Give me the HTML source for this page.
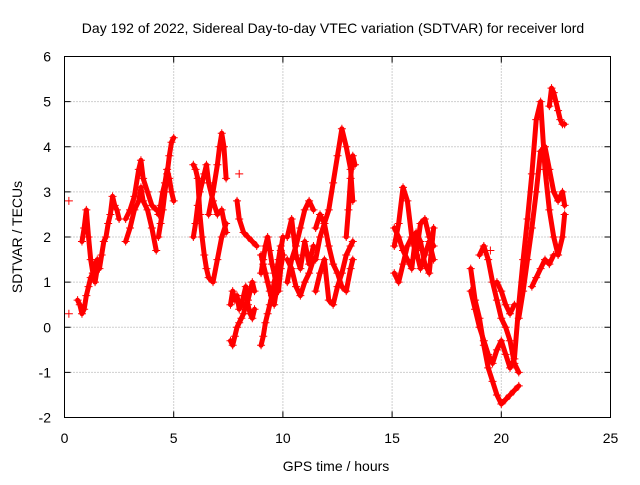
<!DOCTYPE html>
<html><head><meta charset="utf-8"><style>
body{margin:0;background:#fff;width:640px;height:480px;overflow:hidden}
svg text{font-family:"Liberation Sans",sans-serif;font-size:14px;fill:#000}
</style></head><body>
<svg id="chart" width="640" height="480">
<rect x="0" y="0" width="640" height="480" fill="#fff"/>
<g id="grid"></g>
<g id="series"></g>
<rect x="64.5" y="56.5" width="546" height="361" fill="none" stroke="#000"/>
<g id="ticks"></g>
<text x="333" y="33" text-anchor="middle">Day 192 of 2022, Sidereal Day-to-day VTEC variation (SDTVAR) for receiver lord</text>
<text x="336" y="471" text-anchor="middle">GPS time / hours</text>
<text transform="translate(22,237) rotate(-90)" text-anchor="middle">SDTVAR / TECUs</text>
</svg>
<script>
const xTicks=[0,5,10,15,20,25];
const yTicks=[-2,-1,0,1,2,3,4,5,6];
const trackTimes=[
[0.6,0.7,0.8,0.9,1.0,1.1,1.2,1.3,1.4,1.5,1.6,1.7,1.8,1.9,2.0,2.1,2.2,2.3,2.4,2.5],
[0.8,0.9,1.0,1.1,1.2,1.3,1.4,1.5],
[2.8,3.0,3.2,3.4,3.5,3.6,3.8,4.0,4.2],
[2.8,3.0,3.2,3.4,3.5,3.6,3.8,4.0,4.2],
[4.3,4.4,4.5,4.6,4.7,4.8,4.9,5.0],
[4.3,4.4,4.5,4.6,4.7,4.8,4.9,5.0],
[5.9,6.0,6.1,6.2,6.3,6.4,6.5,6.6,6.8,7.0,7.2,7.4],
[5.9,6.0,6.1,6.2,6.3,6.4,6.5,6.6,6.8,7.0,7.2,7.4],
[6.6,6.8,7.0,7.1,7.2,7.3,7.4],
[7.6,7.7,7.8,7.9,8.0,8.1,8.2,8.3,8.4,8.5,8.6,8.7],
[7.6,7.7,7.8,7.9,8.0,8.1,8.2,8.3,8.4,8.5,8.6,8.7],
[7.9,8.0,8.2,8.4,8.6,8.8],
[9.0,9.1,9.2,9.3,9.4,9.5,9.6,9.7,9.8,9.9,10.0],
[9.0,9.1,9.2,9.3,9.4,9.5,9.6,9.7,9.8,9.9,10.0],
[9.0,9.1,9.2,9.3,9.4,9.5,9.6,9.7,9.8,9.9,10.0],
[10.2,10.4,10.6,10.8,11.0,11.2,11.4],
[10.2,10.4,10.6,10.8,11.0,11.2,11.4],
[10.2,10.4,10.6,10.8,11.0,11.2,11.4],
[11.5,11.7,11.9,12.1,12.3,12.5,12.7,12.9,13.1,13.2],
[11.5,11.7,11.9,12.1,12.3,12.5,12.7,12.9,13.1,13.2],
[11.5,11.7,11.9,12.1,12.3,12.5,12.7,12.9,13.1,13.2],
[12.9,13.0,13.1,13.2,13.3],
[15.1,15.3,15.5,15.7,15.9,16.1,16.3,16.5,16.7,16.9],
[15.1,15.3,15.5,15.7,15.9,16.1,16.3,16.5,16.7,16.9],
[15.1,15.3,15.5,15.7,15.9,16.1,16.3,16.5,16.7,16.9],
[18.6,18.8,19.0,19.2,19.4,19.6,19.8,20.0,20.2,20.4,20.6,20.8],
[18.6,18.8,19.0,19.2,19.4,19.6,19.8,20.0,20.2,20.4,20.6,20.8],
[19.0,19.2,19.4,19.6,19.8,20.0,20.2,20.4,20.6,20.8],
[19.8,20.0,20.2,20.4,20.6],
[20.8,21.0,21.2,21.4,21.6,21.8,22.0,22.2,22.4,22.6,22.8,22.9],
[20.8,21.0,21.2,21.4,21.6,21.8,22.0,22.2,22.4,22.6,22.8,22.9],
[22.2,22.3,22.4,22.5,22.6,22.7,22.8,22.9],
[21.4,21.6,21.8,22.0,22.2,22.4]
];
const trackValues=[
[0.6,0.5,0.3,0.4,0.7,0.9,1.1,1.2,1.4,1.5,1.3,1.6,1.9,2.0,2.3,2.5,2.9,2.7,2.6,2.4],
[1.9,2.2,2.6,2.0,1.5,1.2,1.0,1.3],
[2.4,2.6,2.9,3.5,3.7,3.3,3.0,2.7,2.6],
[1.9,2.2,2.6,2.8,3.1,2.8,2.6,2.2,1.7],
[2.0,2.3,2.6,3.0,3.4,3.8,4.1,4.2],
[2.5,2.7,3.0,3.2,3.5,3.3,3.0,2.8],
[3.6,3.5,3.3,2.5,2.0,1.6,1.3,1.1,1.0,1.5,2.0,2.3],
[2.0,2.3,2.7,3.0,3.2,3.4,3.6,3.2,2.8,2.5,2.6,2.1],
[2.5,3.0,3.6,4.0,4.3,4.0,3.3],
[-0.3,-0.4,-0.2,0.0,0.1,0.2,0.3,0.5,0.6,0.8,1.0,0.8],
[0.5,0.8,0.6,0.7,0.4,0.5,0.7,0.9,0.5,0.3,0.2,0.4],
[2.8,2.4,2.1,2.0,1.9,1.8],
[-0.4,-0.2,0.1,0.3,0.5,0.7,1.0,1.2,1.5,1.8,1.6],
[1.2,1.5,1.8,2.0,1.7,1.4,1.2,0.9,0.8,1.3,1.6],
[1.6,1.4,1.2,1.0,0.8,0.6,0.5,0.8,1.2,1.7,2.0],
[1.0,1.5,1.8,2.2,2.6,2.8,2.6],
[1.5,1.3,0.9,0.7,1.0,1.2,1.5],
[2.0,2.4,1.6,1.3,1.9,1.4,1.8],
[1.5,2.0,2.3,2.6,3.2,3.8,4.4,4.0,3.5,2.8],
[2.2,2.5,2.3,1.8,1.4,1.2,0.9,0.8,1.3,1.5],
[0.8,1.2,1.5,0.6,0.5,0.9,1.2,1.6,1.8,1.9],
[2.0,2.6,3.3,3.8,3.6],
[1.8,2.3,3.1,2.8,2.0,1.6,2.3,2.4,2.0,1.8],
[1.2,1.0,1.4,1.8,2.0,1.7,1.3,1.6,1.9,1.5],
[2.2,2.0,1.7,1.5,1.3,2.1,1.9,1.4,1.2,2.2],
[1.3,0.6,0.2,-0.4,-0.9,-1.2,-1.5,-1.7,-1.6,-1.5,-1.4,-1.3],
[0.8,0.4,0.0,-0.3,-0.6,-0.8,-0.5,-0.3,-0.6,-0.9,-0.7,0.5],
[1.6,1.8,1.5,1.0,0.6,0.2,0.0,-0.3,-0.8,-1.0],
[1.0,0.8,0.5,0.3,0.5],
[0.2,0.8,1.5,2.2,3.0,3.9,4.0,3.5,3.0,2.8,3.0,2.7],
[0.5,1.5,2.4,3.4,4.6,5.0,3.5,2.6,2.0,1.6,2.0,2.5],
[4.9,5.3,5.2,5.0,4.8,4.6,4.5,4.5],
[0.9,1.1,1.3,1.5,1.4,1.6]
];
const isoTimes=[0.2,0.2,8.0,19.5];
const isoValues=[2.8,0.3,3.4,1.7];
const NS='http://www.w3.org/2000/svg';
const X0=64.5,X1=610.5,Y0=417.5,Y1=56.5;
const xs=t=>X0+(t-0)/(25-0)*(X1-X0);
const ys=v=>Y0-(v+2)/(6+2)*(Y0-Y1);
function mk(tag,attrs,parent){const e=document.createElementNS(NS,tag);for(const k in attrs)e.setAttribute(k,attrs[k]);parent.appendChild(e);return e;}
const grid=document.getElementById('grid'),ticks=document.getElementById('ticks'),ser=document.getElementById('series');
xTicks.forEach(t=>{const x=xs(t);
 if(t>0&&t<25){const g=mk('line',{x1:x,x2:x,y1:Y1,y2:Y0,stroke:'#a0a0a0','stroke-dasharray':'1,2'},grid);
 
 }
 mk('line',{x1:x,x2:x,y1:Y0,y2:Y0-6,stroke:'#000'},ticks);
 mk('line',{x1:x,x2:x,y1:Y1,y2:Y1+6,stroke:'#000'},ticks);
 const l=mk('text',{x:x,y:443,'text-anchor':'middle'},ticks);l.textContent=t;
 
 });
yTicks.forEach(v=>{const y=ys(v);
 if(v>-2&&v<6){const g=mk('line',{x1:X0,x2:X1,y1:y,y2:y,stroke:'#a0a0a0','stroke-dasharray':'1,2'},grid);
 
 }
 mk('line',{x1:X0,x2:X0+6,y1:y,y2:y,stroke:'#000'},ticks);
 mk('line',{x1:X1,x2:X1-6,y1:y,y2:y,stroke:'#000'},ticks);
 const l=mk('text',{x:51,y:y+5,'text-anchor':'end'},ticks);l.textContent=v;
 
 });
function plus(t,v){const x=xs(t),y=ys(v);
 const p=mk('path',{d:`M${x-4},${y}h8M${x},${y-4}v8`,stroke:'#f00','stroke-width':1},ser);
 
 }
trackTimes.forEach((ts,i)=>{const vs=trackValues[i];
 const pl=mk('polyline',{points:ts.map((t,j)=>xs(t)+','+ys(vs[j])).join(' '),fill:'none',stroke:'#f00','stroke-width':5,'stroke-linejoin':'round','stroke-linecap':'round'},ser);
 
 
 ts.forEach((t,j)=>plus(t,vs[j]));});
isoTimes.forEach((t,i)=>plus(t,isoValues[i]));
</script>
</body></html>
